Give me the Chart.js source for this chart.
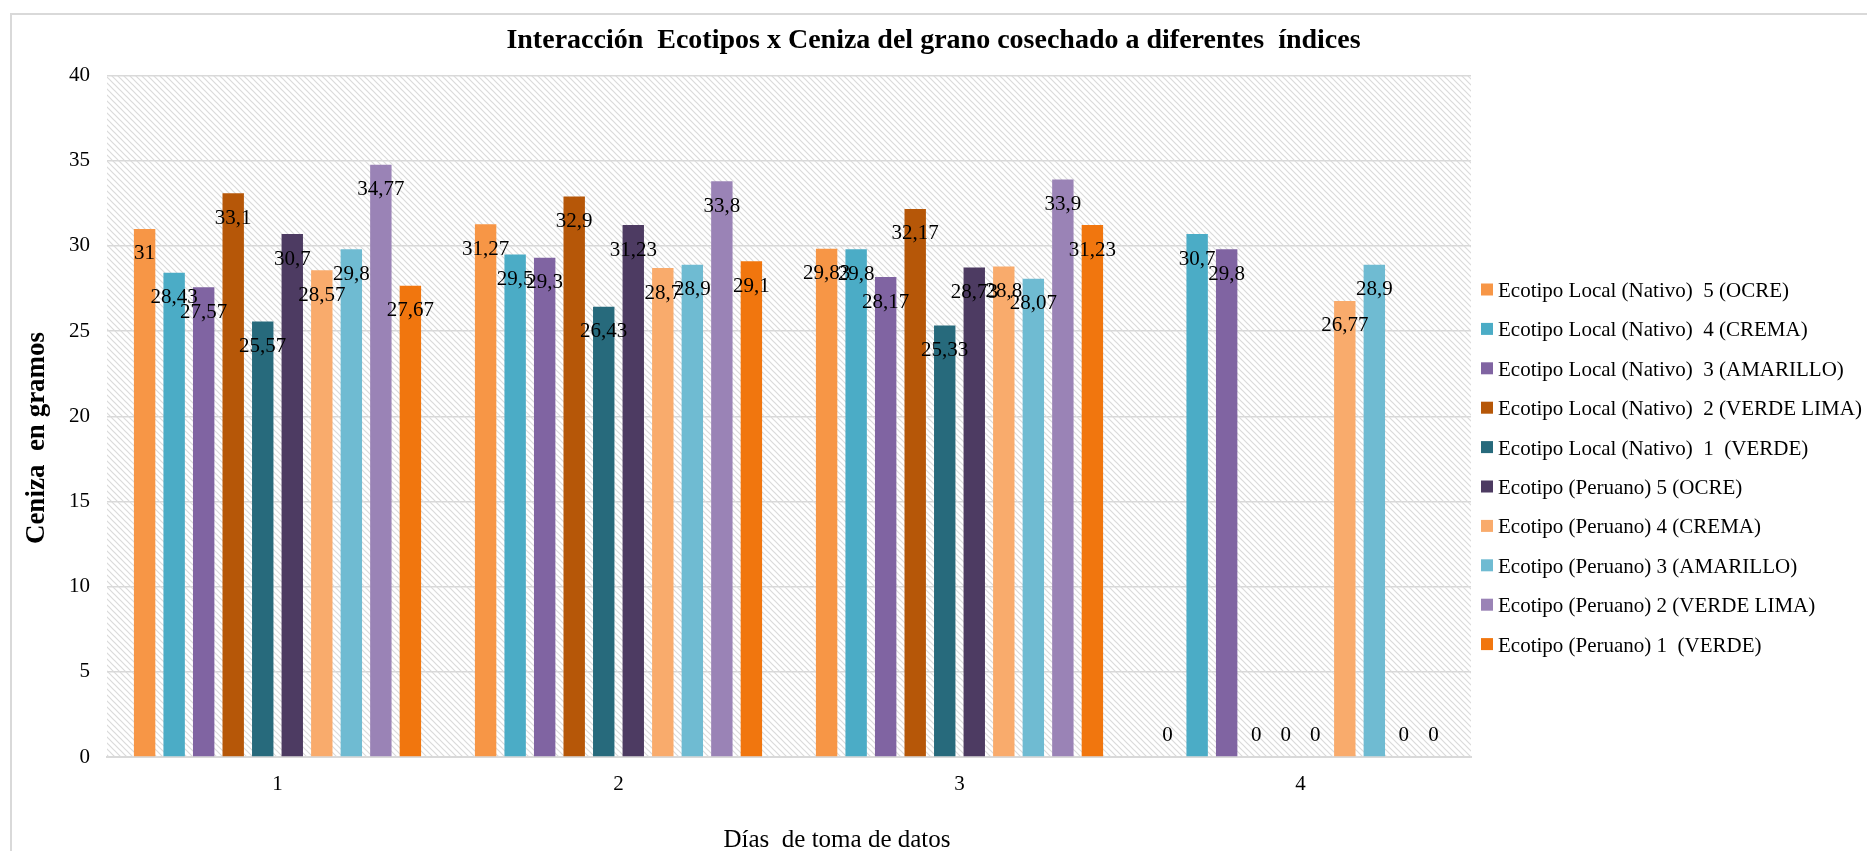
<!DOCTYPE html>
<html>
<head>
<meta charset="utf-8">
<script src="https://cdn.jsdelivr.net/npm/chart.js@4.4.0/dist/chart.umd.min.js"></script>
<style>
  html, body { margin: 0; padding: 0; background: #ffffff; }
  #wrap { position: relative; width: 1867px; height: 851px; }
</style>
</head>
<body>
<div id="wrap"><canvas id="c" width="1867" height="851"></canvas></div>
<script>
// ---- data ----
const categories = ['1', '2', '3', '4'];
const seriesNames = [
  'Ecotipo Local (Nativo)  5 (OCRE)',
  'Ecotipo Local (Nativo)  4 (CREMA)',
  'Ecotipo Local (Nativo)  3 (AMARILLO)',
  'Ecotipo Local (Nativo)  2 (VERDE LIMA)',
  'Ecotipo Local (Nativo)  1  (VERDE)',
  'Ecotipo (Peruano) 5 (OCRE)',
  'Ecotipo (Peruano) 4 (CREMA)',
  'Ecotipo (Peruano) 3 (AMARILLO)',
  'Ecotipo (Peruano) 2 (VERDE LIMA)',
  'Ecotipo (Peruano) 1  (VERDE)'
];
const localOcre      = [31, 31.27, 29.83, 0];
const localCrema     = [28.43, 29.5, 29.8, 30.7];
const localAmarillo  = [27.57, 29.3, 28.17, 29.8];
const localVerdeLima = [33.1, 32.9, 32.17, 0];
const localVerde     = [25.57, 26.43, 25.33, 0];
const peruOcre       = [30.7, 31.23, 28.73, 0];
const peruCrema      = [28.57, 28.7, 28.8, 26.77];
const peruAmarillo   = [29.8, 28.9, 28.07, 28.9];
const peruVerdeLima  = [34.77, 33.8, 33.9, 0];
const peruVerde      = [27.67, 29.1, 31.23, 0];
const yTicks = [0, 5, 10, 15, 20, 25, 30, 35, 40];
const chartTitle = 'Interacción  Ecotipos x Ceniza del grano cosechado a diferentes  índices';
const yTitle = 'Ceniza  en gramos';
const xTitle = 'Días  de toma de datos';

// ---- styles ----
const seriesColors = ['#F79646', '#4BACC6', '#8064A2', '#B65708', '#276A7C',
                      '#4D3B62', '#F9AB6C', '#6FBBD2', '#9A83B6', '#F1760E'];
const seriesValues = [localOcre, localCrema, localAmarillo, localVerdeLima, localVerde,
                      peruOcre, peruCrema, peruAmarillo, peruVerdeLima, peruVerde];
const SERIF = '"Liberation Serif", "Times New Roman", serif';

function makeHatch() {
  const s = 6;
  const p = document.createElement('canvas');
  p.width = s; p.height = s;
  const g = p.getContext('2d');
  g.fillStyle = '#ffffff';
  g.fillRect(0, 0, s, s);
  g.strokeStyle = '#dadada';
  g.lineWidth = 1.2;
  g.beginPath();
  g.moveTo(-1, -1); g.lineTo(s + 1, s + 1);
  g.moveTo(-1, s - 1); g.lineTo(1, s + 1);
  g.moveTo(s - 1, -1); g.lineTo(s + 1, 1);
  g.stroke();
  return p;
}

const decorPlugin = {
  id: 'decor',
  beforeDraw(chart) {
    const ctx = chart.ctx, a = chart.chartArea;
    ctx.save();
    ctx.strokeStyle = '#d9d9d9';
    ctx.lineWidth = 2;
    ctx.strokeRect(11, 14, 3000, 3000);
    ctx.fillStyle = ctx.createPattern(makeHatch(), 'repeat');
    ctx.fillRect(a.left, a.top, a.right - a.left, a.bottom - a.top);
    ctx.restore();
  },
  afterDatasetsDraw(chart) {
    const ctx = chart.ctx;
    ctx.save();
    ctx.font = '21px ' + SERIF;
    ctx.fillStyle = '#000';
    ctx.textAlign = 'center';
    ctx.textBaseline = 'middle';
    chart.data.datasets.forEach((ds, i) => {
      const meta = chart.getDatasetMeta(i);
      meta.data.forEach((bar, j) => {
        const v = ds.data[j];
        const y = v > 0 ? bar.y + 25 : bar.base - 22;
        ctx.fillText(String(v).replace('.', ','), bar.x, y);
      });
    });
    ctx.restore();
  },
  afterDraw(chart) {
    const ctx = chart.ctx;
    ctx.save();
    // axis titles
    ctx.fillStyle = '#000';
    ctx.font = 'bold 27px ' + SERIF;
    ctx.textAlign = 'center';
    ctx.textBaseline = 'alphabetic';
    ctx.translate(44, 438);
    ctx.rotate(-Math.PI / 2);
    ctx.fillText(yTitle, 0, 0);
    ctx.setTransform(1, 0, 0, 1, 0, 0);
    ctx.font = '25px ' + SERIF;
    ctx.fillText(xTitle, 837, 847);
    // legend
    ctx.font = '21px ' + SERIF;
    ctx.textAlign = 'left';
    chart.data.datasets.forEach((ds, i) => {
      const cy = 289.5 + i * 39.4;
      ctx.fillStyle = ds.backgroundColor;
      ctx.fillRect(1481, cy - 6, 12, 12);
      ctx.fillStyle = '#000';
      ctx.fillText(ds.label, 1498, cy + 7.5);
    });
    ctx.restore();
  }
};

new Chart(document.getElementById('c'), {
  type: 'bar',
  data: {
    labels: categories,
    datasets: seriesNames.map((name, i) => ({
      label: name,
      data: seriesValues[i],
      backgroundColor: seriesColors[i],
      borderWidth: 0,
      categoryPercentage: 0.866,
      barPercentage: 0.725
    }))
  },
  options: {
    responsive: false,
    animation: false,
    devicePixelRatio: 1,
    layout: { padding: 0 },
    plugins: {
      legend: { display: false },
      tooltip: { enabled: false },
      title: {
        display: true,
        text: chartTitle,
        color: '#000',
        font: { family: SERIF, size: 28, weight: 'bold', lineHeight: 1.2 },
        padding: { top: 24, bottom: 18 }
      }
    },
    scales: {
      x: {
        grid: { display: false, drawTicks: false },
        border: { display: true, color: '#d9d9d9', width: 2 },
        ticks: { color: '#000', font: { family: SERIF, size: 21 }, padding: 15 },
        afterFit(s) { s.height = 94; }
      },
      y: {
        min: 0, max: 40,
        afterBuildTicks(s) { s.ticks = yTicks.map(v => ({ value: v })); },
        grid: { color: '#d9d9d9', lineWidth: 1.5, drawTicks: false },
        border: { display: false },
        ticks: { color: '#000', font: { family: SERIF, size: 21 }, padding: 17 },
        afterFit(s) { s.width = 107; }
      },
      yRight: {
        position: 'right',
        display: true,
        grid: { display: false, drawTicks: false },
        border: { display: false },
        ticks: { display: false },
        afterFit(s) { s.width = 396; }
      }
    }
  },
  plugins: [decorPlugin]
});
</script>
</body>
</html>
